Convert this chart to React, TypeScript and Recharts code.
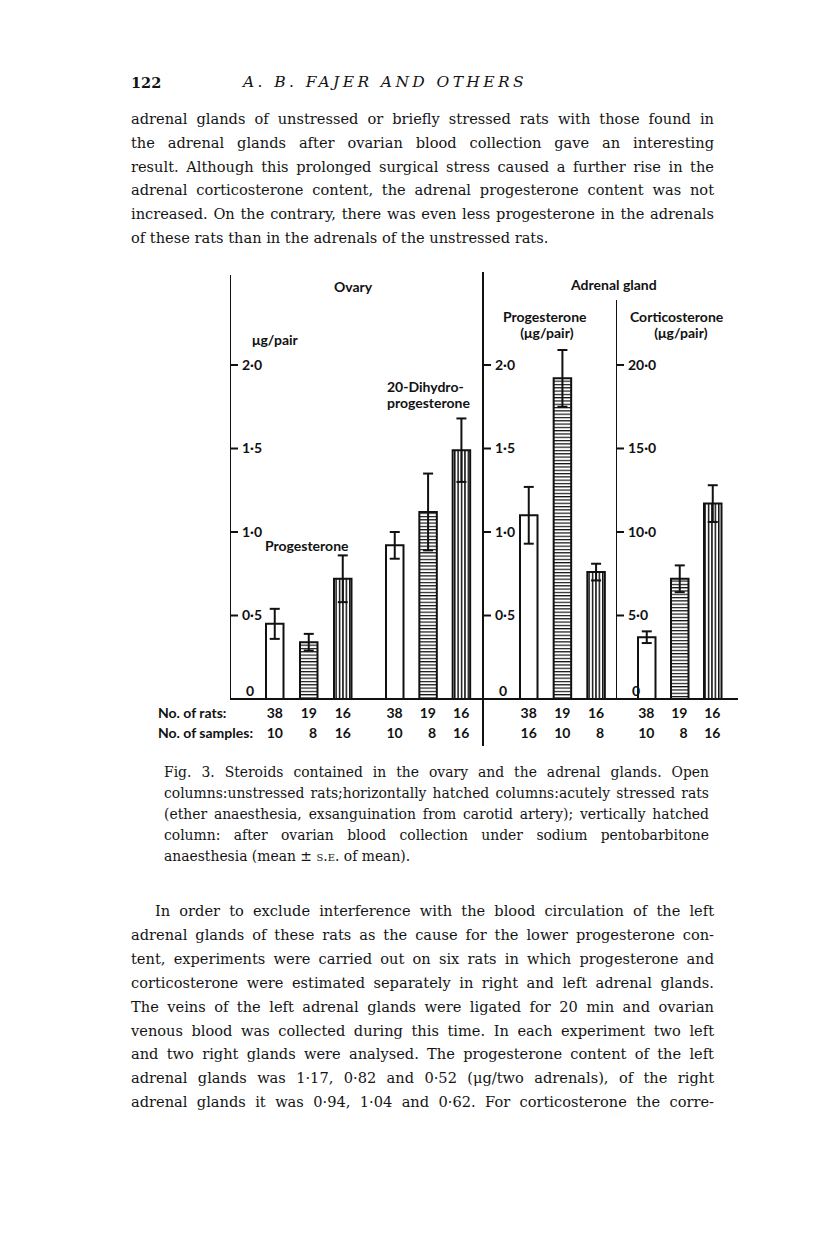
import React from "react";
import { BarChart, Bar, XAxis, YAxis, ErrorBar, Cell } from "recharts";

// treatment groups: open, horizontally hatched, vertically hatched
const groups = ["unstressed", "acutely stressed", "after ovarian collection"];

const ovaryProgMean = [0.45, 0.34, 0.72];
const ovaryProgSE = [0.09, 0.05, 0.14];
const ovaryDhpMean = [0.92, 1.12, 1.49];
const ovaryDhpSE = [0.08, 0.23, 0.19];
const adrProgMean = [1.1, 1.92, 0.76];
const adrProgSE = [0.17, 0.17, 0.05];
const adrCortMean = [3.7, 7.2, 11.7];
const adrCortSE = [0.35, 0.8, 1.1];

const ovaryRats = [38, 19, 16];
const ovarySamples = [10, 8, 16];
const adrProgRats = [38, 19, 16];
const adrProgSamples = [16, 10, 8];
const adrCortRats = [38, 19, 16];
const adrCortSamples = [10, 8, 16];

const ticksUg = [0, 0.5, 1, 1.5, 2];
const ticksCort = [0, 5, 10, 15, 20];

const fills = ["#fff", "url(#hatchH)", "url(#hatchV)"];

const para1 = [
  "adrenal glands of unstressed or briefly stressed rats with those found in",
  "the adrenal glands after ovarian blood collection gave an interesting",
  "result. Although this prolonged surgical stress caused a further rise in the",
  "adrenal corticosterone content, the adrenal progesterone content was not",
  "increased. On the contrary, there was even less progesterone in the adrenals",
  "of these rats than in the adrenals of the unstressed rats.",
];

const caption = [
  "Fig. 3. Steroids contained in the ovary and the adrenal glands. Open",
  "columns:unstressed rats;horizontally hatched columns:acutely stressed rats",
  "(ether anaesthesia, exsanguination from carotid artery); vertically hatched",
  "column: after ovarian blood collection under sodium pentobarbitone",
];

const para2 = [
  "In order to exclude interference with the blood circulation of the left",
  "adrenal glands of these rats as the cause for the lower progesterone con-",
  "tent, experiments were carried out on six rats in which progesterone and",
  "corticosterone were estimated separately in right and left adrenal glands.",
  "The veins of the left adrenal glands were ligated for 20 min and ovarian",
  "venous blood was collected during this time. In each experiment two left",
  "and two right glands were analysed. The progesterone content of the left",
  "adrenal glands was 1·17, 0·82 and 0·52 (μg/two adrenals), of the right",
  "adrenal glands it was 0·94, 1·04 and 0·62. For corticosterone the corre-",
];

const figFont = "Lato, 'Open Sans', sans-serif";
const textFont = "'DejaVu Serif', serif";

const rows = (mean: number[], se: number[]) =>
  groups.map((g, i) => ({ group: g, mean: mean[i], se: se[i] }));

const fmt = (v: number) => (v === 0 ? "0" : v.toFixed(1).replace(".", "·"));

const YTick = (props: any) => {
  const { x, y, payload } = props;
  const zero = payload.value === 0;
  return (
    <text
      x={zero ? x + 4 : x}
      y={zero ? y - 8 : y}
      dy="0.35em"
      textAnchor="start"
      fontFamily={figFont}
      fontWeight={700}
      fontSize={14}
      fill="#111"
    >
      {fmt(payload.value)}
    </text>
  );
};

const makeXTick = (rats: number[], samples: number[]) => (props: any) => {
  const { x, y, index } = props;
  const common = {
    textAnchor: "end" as const,
    fontFamily: figFont,
    fontWeight: 700,
    fontSize: 14,
    fill: "#111",
  };
  return (
    <g>
      <text x={x + 8} y={y + 19} {...common}>{rats[index]}</text>
      <text x={x + 8} y={y + 39} {...common}>{samples[index]}</text>
    </g>
  );
};

interface PanelProps {
  left: number;
  top: number;
  width: number;
  plotHeight: number;
  data: { group: string; mean: number; se: number }[];
  domain: [number, number];
  ticks?: number[];
  showAxis: boolean;
  axisLine?: boolean;
  padding: { left: number; right: number };
  rats: number[];
  samples: number[];
}

function Panel(p: PanelProps) {
  return (
    <div style={{ position: "absolute", left: p.left, top: p.top }}>
      <BarChart
        width={p.width}
        height={p.plotHeight + 50}
        data={p.data}
        margin={{ top: 0, right: 0, bottom: 0, left: 0 }}
        barSize={17.5}
      >
        <XAxis
          dataKey="group"
          height={50}
          padding={p.padding}
          axisLine={{ stroke: "#111", strokeWidth: 2 }}
          tickLine={false}
          tickSize={0}
          tickMargin={0}
          interval={0}
          tick={makeXTick(p.rats, p.samples)}
        />
        <YAxis
          hide={!p.showAxis}
          mirror
          domain={p.domain}
          allowDataOverflow
          ticks={p.ticks}
          interval={0}
          tickSize={8}
          tickMargin={4}
          axisLine={p.axisLine === false ? false : { stroke: "#111", strokeWidth: 2 }}
          tickLine={{ stroke: "#111", strokeWidth: 2 }}
          tick={<YTick />}
        />
        <Bar dataKey="mean" stroke="#111" strokeWidth={2} isAnimationActive={false}>
          {p.data.map((_, i) => (
            <Cell key={i} fill={fills[i]} />
          ))}
          <ErrorBar dataKey="se" width={5} stroke="#111" strokeWidth={2} />
        </Bar>
      </BarChart>
    </div>
  );
}

const label = (
  text: React.ReactNode,
  left: number,
  top: number,
  extra: React.CSSProperties = {}
) => (
  <div
    style={{
      position: "absolute",
      left,
      top,
      fontFamily: figFont,
      fontWeight: 700,
      fontSize: 14,
      lineHeight: "16px",
      color: "#111",
      whiteSpace: "nowrap",
      ...extra,
    }}
  >
    {text}
  </div>
);

function Lines({
  lines,
  left,
  top,
  width,
  lineHeight,
  fontSize,
  lastJustified,
  indent = 0,
}: {
  lines: React.ReactNode[];
  left: number;
  top: number;
  width: number;
  lineHeight: number;
  fontSize: number;
  lastJustified: boolean;
  indent?: number;
}) {
  return (
    <>
      {lines.map((ln, i) => {
        const justify = lastJustified || i < lines.length - 1;
        const ind = i === 0 ? indent : 0;
        return (
          <div
            key={i}
            style={{
              position: "absolute",
              left: left + ind,
              top: top + i * lineHeight,
              width: width - ind,
              height: lineHeight,
              lineHeight: `${lineHeight}px`,
              fontFamily: textFont,
              fontSize,
              color: "#141414",
              whiteSpace: "nowrap",
              textAlign: justify ? "justify" : "left",
              textAlignLast: justify ? "justify" : "left",
            }}
          >
            {ln}
          </div>
        );
      })}
    </>
  );
}

export default function App() {
  const ugDomain: [number, number] = [0, 2.539];
  const cortDomain: [number, number] = [0, 23.89];
  return (
    <div
      style={{
        position: "absolute",
        left: 0,
        top: 0,
        width: 816,
        height: 1244,
        background: "#fff",
        overflow: "hidden",
      }}
    >
      <svg width={0} height={0} style={{ position: "absolute" }}>
        <defs>
          <pattern id="hatchH" width="4" height="3.3" patternUnits="userSpaceOnUse">
            <rect width="4" height="3.3" fill="#fff" />
            <rect width="4" height="1.2" fill="#111" />
          </pattern>
          <pattern id="hatchV" width="3.4" height="4" patternUnits="userSpaceOnUse">
            <rect width="3.4" height="4" fill="#fff" />
            <rect width="1.5" height="4" fill="#111" />
          </pattern>
        </defs>
      </svg>

      {/* running head */}
      <div
        style={{
          position: "absolute",
          left: 131,
          top: 74,
          fontFamily: textFont,
          fontSize: 14.5,
          fontWeight: 700,
          color: "#141414",
        }}
      >
        122
      </div>
      <div
        style={{
          position: "absolute",
          left: 243,
          top: 73,
          fontFamily: textFont,
          fontSize: 15.5,
          fontStyle: "italic",
          letterSpacing: 3.4,
          color: "#141414",
          whiteSpace: "nowrap",
        }}
      >
        A. B. FAJER AND OTHERS
      </div>

      <Lines lines={para1} left={131} top={107} width={583} lineHeight={23.8} fontSize={14.6} lastJustified={false} />

      {/* figure */}
      <Panel
        left={230}
        top={275}
        width={139}
        plotHeight={424}
        data={rows(ovaryProgMean, ovaryProgSE)}
        domain={ugDomain}
        ticks={ticksUg}
        showAxis
        padding={{ left: 28, right: 9 }}
        rats={ovaryRats}
        samples={ovarySamples}
      />
      <Panel
        left={369}
        top={275}
        width={114}
        plotHeight={424}
        data={rows(ovaryDhpMean, ovaryDhpSE)}
        domain={ugDomain}
        showAxis={false}
        padding={{ left: 9, right: 5 }}
        rats={ovaryRats}
        samples={ovarySamples}
      />
      <Panel
        left={483}
        top={275}
        width={133}
        plotHeight={424}
        data={rows(adrProgMean, adrProgSE)}
        domain={ugDomain}
        ticks={ticksUg}
        showAxis
        axisLine={false}
        padding={{ left: 29, right: 3 }}
        rats={adrProgRats}
        samples={adrProgSamples}
      />
      <Panel
        left={616}
        top={300}
        width={122}
        plotHeight={399}
        data={rows(adrCortMean, adrCortSE)}
        domain={cortDomain}
        ticks={ticksCort}
        showAxis
        padding={{ left: 14, right: 9 }}
        rats={adrCortRats}
        samples={adrCortSamples}
      />
      {/* divider between ovary and adrenal panels */}
      <div style={{ position: "absolute", left: 482, top: 272, width: 2, height: 474, background: "#111" }} />

      {label("Ovary", 334, 279)}
      {label("μg/pair", 252, 332)}
      {label("20-Dihydro-", 387, 379)}
      {label("progesterone", 387, 395)}
      {label("Progesterone", 265, 538)}
      {label("Adrenal gland", 571, 277)}
      {label("Progesterone", 503, 309)}
      {label("(μg/pair)", 547, 325, { transform: "translateX(-50%)" })}
      {label("Corticosterone", 630, 309)}
      {label("(μg/pair)", 681, 325, { transform: "translateX(-50%)" })}
      {label("No. of rats:", 158, 705)}
      {label("No. of samples:", 158, 725)}

      <Lines
        lines={[
          ...caption,
          <span>
            anaesthesia (mean ± <span style={{ fontVariant: "small-caps" }}>s.e.</span> of mean).
          </span>,
        ]}
        left={164}
        top={762}
        width={545}
        lineHeight={21}
        fontSize={13.9}
        lastJustified={false}
      />

      <Lines lines={para2} left={131} top={899} width={583} lineHeight={23.9} fontSize={14.6} lastJustified indent={24} />
    </div>
  );
}
